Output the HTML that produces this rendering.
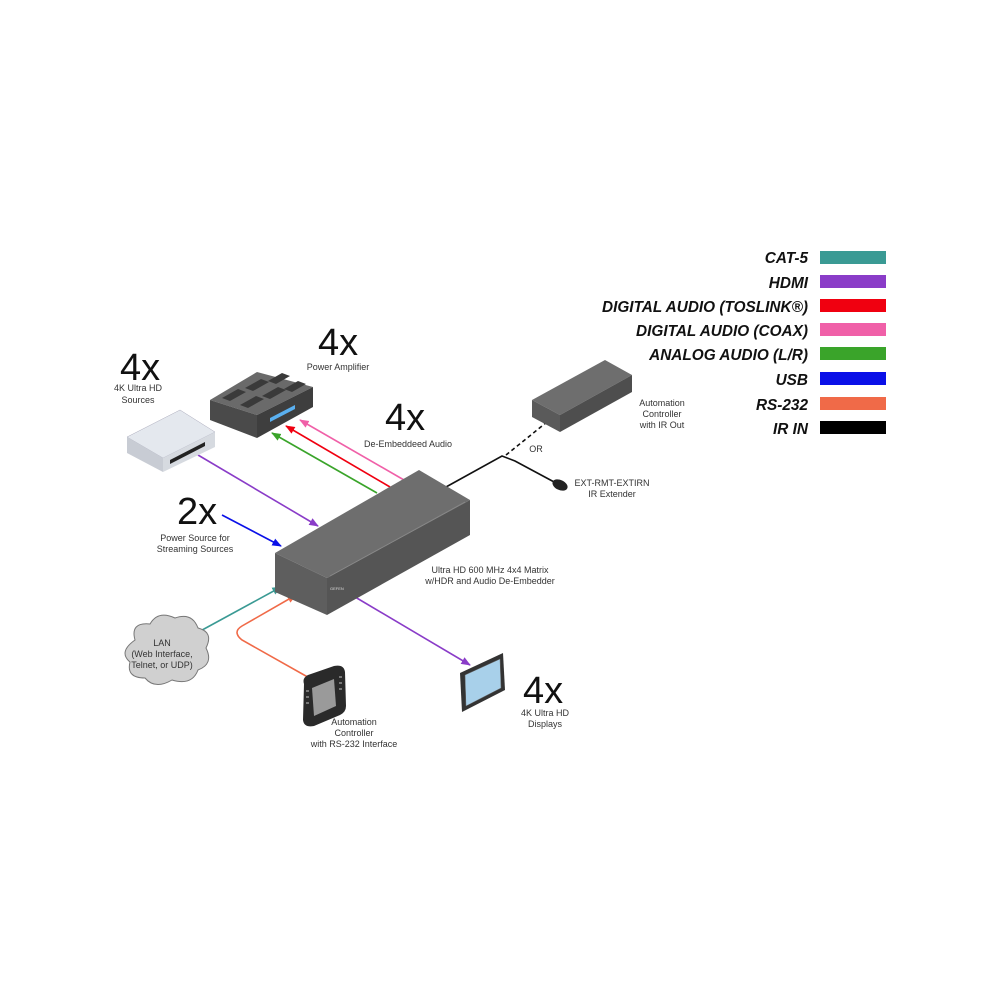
<!DOCTYPE html>
<html><head><meta charset="utf-8"><style>
html,body{margin:0;padding:0;background:#fff;}
svg{display:block;}
.l{font-family:"Liberation Sans",sans-serif;font-size:9px;fill:#333;}
.b{font-family:"Liberation Sans",sans-serif;font-size:38px;fill:#111;}
.g{font-family:"Liberation Sans",sans-serif;font-size:16px;font-weight:bold;font-style:italic;fill:#111;}
</style></head><body>
<svg width="1000" height="1000" viewBox="0 0 1000 1000" xmlns="http://www.w3.org/2000/svg">
<defs>
<marker id="m" viewBox="0 0 10 10" refX="9" refY="5" markerWidth="6" markerHeight="6" orient="auto-start-reverse"><path d="M0,1 L10,5 L0,9 z" fill="context-stroke"/></marker>
</defs>
<!-- legend -->
<g text-anchor="end" transform="translate(808 0) scale(0.96 1) translate(-808 0)">
<text class="g" x="808" y="263">CAT-5</text>
<text class="g" x="808" y="288">HDMI</text>
<text class="g" x="808" y="312">DIGITAL AUDIO (TOSLINK®)</text>
<text class="g" x="808" y="336">DIGITAL AUDIO (COAX)</text>
<text class="g" x="808" y="360">ANALOG AUDIO (L/R)</text>
<text class="g" x="808" y="385">USB</text>
<text class="g" x="808" y="410">RS-232</text>
<text class="g" x="808" y="434">IR IN</text>
</g>
<rect x="820" y="251" width="66" height="13" fill="#3a9a94"/>
<rect x="820" y="275" width="66" height="13" fill="#8a3cc8"/>
<rect x="820" y="299" width="66" height="13" fill="#f00010"/>
<rect x="820" y="323" width="66" height="13" fill="#f060a8"/>
<rect x="820" y="347" width="66" height="13" fill="#3aa42a"/>
<rect x="820" y="372" width="66" height="13" fill="#0a10e8"/>
<rect x="820" y="397" width="66" height="13" fill="#f06a48"/>
<rect x="820" y="421" width="66" height="13" fill="#000"/>

<!-- connectors -->
<g fill="none" stroke-width="1.6">
<line x1="198" y1="455" x2="318" y2="526" stroke="#8a3cc8" marker-end="url(#m)"/>
<line x1="222" y1="515" x2="281" y2="546" stroke="#0a10e8" marker-end="url(#m)"/>
<line x1="377" y1="493" x2="272" y2="433" stroke="#3aa42a" marker-end="url(#m)"/>
<line x1="390" y1="487" x2="286" y2="426" stroke="#f00010" marker-end="url(#m)"/>
<line x1="404" y1="480" x2="300" y2="420" stroke="#f060a8" marker-end="url(#m)"/>
<polyline points="446,487 502,456 515,461 556,483" stroke="#111"/>
<line x1="506" y1="455" x2="552" y2="418" stroke="#111" stroke-dasharray="4,3"/>
<line x1="193" y1="635" x2="281" y2="587" stroke="#3a9a94" marker-start="url(#m)" marker-end="url(#m)"/>
<path d="M313,680 L242,640 Q232,632 242,626 L296,595" stroke="#f06a48" marker-end="url(#m)"/>
<line x1="350" y1="594" x2="470" y2="665" stroke="#8a3cc8" marker-end="url(#m)"/>
</g>
<ellipse cx="560" cy="485" rx="8" ry="5" transform="rotate(25 560 485)" fill="#222"/>

<!-- main box -->
<polygon points="275,553 419,470 470,500 327,578" fill="#6e6e6e"/>
<polygon points="275,553 327,578 327,615 275,592" fill="#5e5e5e"/>
<polygon points="327,578 470,500 470,535 327,615" fill="#555"/>
<line x1="330" y1="576" x2="465" y2="502" stroke="#888" stroke-width="0.8"/>
<text x="330" y="590" style="font-family:'Liberation Sans',sans-serif;font-size:4px" fill="#ddd">GEFEN</text>

<!-- amplifier -->
<polygon points="210,400 257,372 313,387 257,415" fill="#6a6a6a"/>
<polygon points="210,400 257,415 257,438 210,420" fill="#4a4a4a"/>
<polygon points="257,415 313,387 313,407 257,438" fill="#3e3e3e"/>
<g fill="#3a3a3a"><polygon points="222,398 238,389 246,392 230,401"/><polygon points="240,405 256,396 264,399 248,408"/><polygon points="245,388 261,379 269,382 253,391"/><polygon points="262,396 278,387 286,390 270,399"/><polygon points="268,381 282,373 290,376 276,384"/><polygon points="284,389 298,381 306,384 292,392"/></g>
<polygon points="270,418 295,405 295,409 270,422" fill="#5ab0f0"/>

<!-- source -->
<polygon points="127,437 180,410 215,432 163,458" fill="#e4e8ee" stroke="#aab" stroke-width="0.5"/>
<polygon points="127,437 163,458 163,472 127,453" fill="#c8ccd4"/>
<polygon points="163,458 215,432 215,447 163,472" fill="#d6dae0"/>
<polygon points="170,460 205,442 205,446 170,464" fill="#222"/>

<!-- IR automation box -->
<polygon points="532,400 605,360 632,375 560,415" fill="#6e6e6e"/>
<polygon points="532,400 560,415 560,432 532,417" fill="#5a5a5a"/>
<polygon points="560,415 632,375 632,392 560,432" fill="#4e4e4e"/>

<!-- cloud -->
<path d="M135,640 Q130,622 150,624 Q158,610 175,618 Q192,612 198,628 Q214,632 206,648 Q214,664 198,670 Q192,686 172,680 Q155,690 145,678 Q126,678 130,662 Q118,652 135,640 z" fill="#d0d0d0" stroke="#777" stroke-width="1"/>

<!-- tablet -->
<path d="M304,684 Q302,678 308,675 L334,666 Q344,664 345,672 L346,706 Q346,712 340,715 L314,726 Q304,728 303,720 z" fill="#2a2a2a"/>
<polygon points="312,688 334,679 336,706 314,716" fill="#9a9a9a"/>
<g fill="#777"><rect x="306" y="690" width="3" height="2"/><rect x="306" y="696" width="3" height="2"/><rect x="306" y="702" width="3" height="2"/><rect x="339" y="676" width="3" height="2"/><rect x="339" y="682" width="3" height="2"/><rect x="339" y="688" width="3" height="2"/></g>

<!-- display -->
<polygon points="460,673 503,653 505,690 462,712" fill="#333"/>
<polygon points="465,675 500,659 501,688 466,706" fill="#a8d0ea" stroke="#666" stroke-width="0.5"/>

<!-- labels -->
<text class="b" x="120" y="380">4x</text>
<text class="b" x="318" y="355">4x</text>
<text class="b" x="385" y="430">4x</text>
<text class="b" x="177" y="524">2x</text>
<text class="b" x="523" y="703">4x</text>
<g class="l" text-anchor="middle">
<text x="138" y="391">4K Ultra  HD</text><text x="138" y="403">Sources</text>
<text x="338" y="370">Power Amplifier</text>
<text x="408" y="447">De-Embeddeed Audio</text>
<text x="195" y="541">Power Source for</text><text x="195" y="552">Streaming Sources</text>
<text x="490" y="573">Ultra HD 600 MHz 4x4 Matrix</text><text x="490" y="584">w/HDR and Audio De-Embedder</text>
<text x="662" y="406">Automation</text><text x="662" y="417">Controller</text><text x="662" y="428">with IR Out</text>
<text x="536" y="452">OR</text>
<text x="612" y="486">EXT-RMT-EXTIRN</text><text x="612" y="497">IR Extender</text>
<text x="162" y="646">LAN</text><text x="162" y="657">(Web Interface,</text><text x="162" y="668">Telnet, or UDP)</text>
<text x="354" y="725">Automation</text><text x="354" y="736">Controller</text><text x="354" y="747">with RS-232 Interface</text>
<text x="545" y="716">4K Ultra HD</text><text x="545" y="727">Displays</text>
</g>
</svg>
</body></html>
